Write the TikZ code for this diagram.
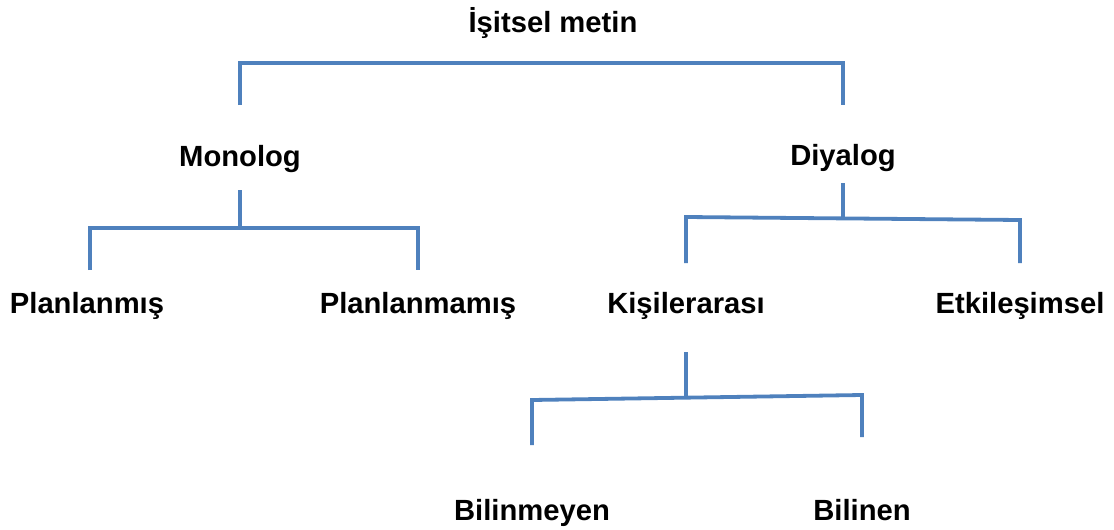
\documentclass[tikz,border=0pt]{standalone}
\usepackage{fontspec}
\setmainfont{Liberation Sans}
\begin{document}
\begin{tikzpicture}[x=1pt,y=-1pt,
  lbl/.style={font=\bfseries\fontsize{29.2}{33}\selectfont, anchor=base, inner sep=0pt, text=black},
  br/.style={draw=brline, line width=3.8pt, line cap=butt, line join=miter}]
\definecolor{brline}{HTML}{4F81BD}
\useasboundingbox (0,0) rectangle (1114,530);
% labels
\node[lbl] (root) at (553,32) {İşitsel metin};
\node[lbl] (mono) at (240,166) {Monolog};
\node[lbl] (diya) at (843,165) {Diyalog};
\node[lbl] (plan) at (87,313) {Planlanmış};
\node[lbl] (planm) at (418,313) {Planlanmamış};
\node[lbl] (kisi) at (686,313) {Kişilerarası};
\node[lbl] (etki) at (1020,313) {Etkileşimsel};
\node[lbl] (bilm) at (532,520) {Bilinmeyen};
\node[lbl] (bil) at (862,520) {Bilinen};
% root bracket coordinates
\coordinate (rL) at (240,105); \coordinate (r1) at (240,63);
\coordinate (r2) at (843,63);  \coordinate (rR) at (843,105);
% monolog bracket coordinates
\coordinate (m0) at (240,190); \coordinate (mj) at (240,228);
\coordinate (m1) at (90,228);  \coordinate (m2) at (418,228);
\coordinate (mL) at (90,270);  \coordinate (mR) at (418,270);
% diyalog bracket coordinates
\coordinate (d0) at (843,183); \coordinate (dj) at (843,218.5);
\coordinate (d1) at (686,217); \coordinate (d2) at (1020,220);
\coordinate (dL) at (686,263); \coordinate (dR) at (1020,263);
% kisilerarasi bracket coordinates
\coordinate (k0) at (686,352); \coordinate (kj) at (686,397.5);
\coordinate (k1) at (532,400); \coordinate (k2) at (862,395);
\coordinate (kL) at (532,445); \coordinate (kR) at (862,437);
% brackets
\draw[br] (rL) -- (r1) -- (r2) -- (rR);
\draw[br] (m0) -- (mj);
\draw[br] (mL) -- (m1) -- (m2) -- (mR);
\draw[br] (d0) -- (dj);
\draw[br] (dL) -- (d1) -- (d2) -- (dR);
\draw[br] (k0) -- (kj);
\draw[br] (kL) -- (k1) -- (k2) -- (kR);
\end{tikzpicture}
\end{document}
